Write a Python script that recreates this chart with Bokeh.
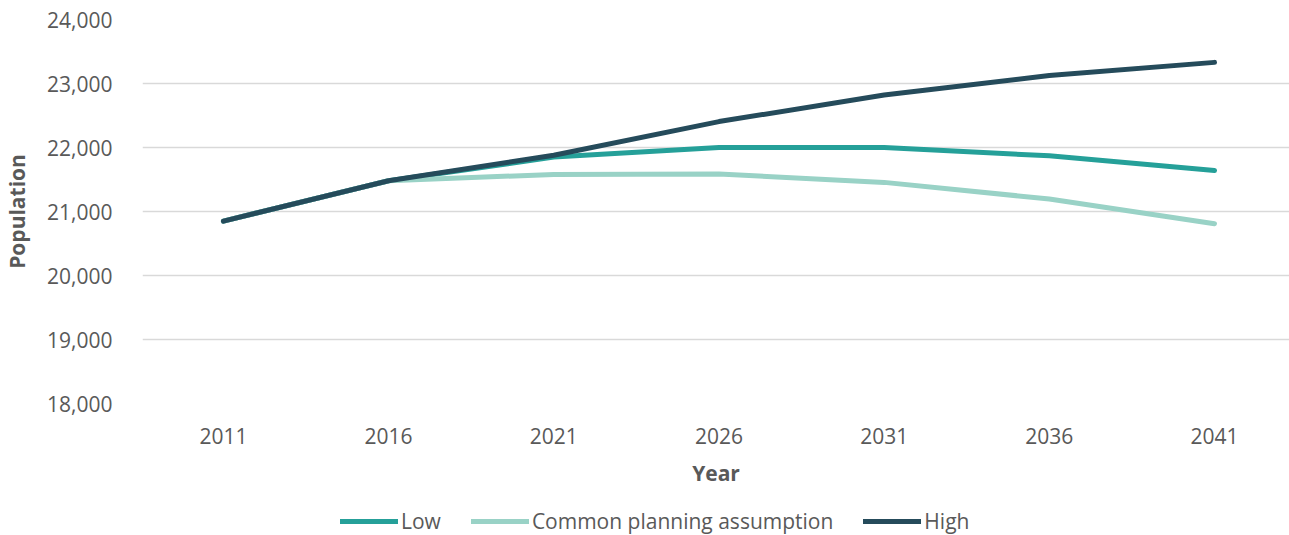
from bokeh.plotting import figure
from bokeh.layouts import column
from bokeh.models import Range1d, FixedTicker, NumeralTickFormatter, Legend, LegendItem, CustomJSTickFormatter
from bokeh.embed import file_html
from bokeh.resources import INLINE

years = [2011, 2016, 2021, 2026, 2031, 2036, 2041]
low = [20850, 21480, 21850, 22000, 22000, 21870, 21640]
common = [20850, 21480, 21580, 21585, 21455, 21195, 20810]
high = [20850, 21480, 21880, 22405, 22820, 23125, 23330]
y_ticks = [18000, 19000, 20000, 21000, 22000, 23000, 24000]
series_names = ["Low", "Common planning assumption", "High"]
colors = ["#25a099", "#99d2c6", "#254b5b"]

FONT = "Open Sans"
TXT = "#595959"

p = figure(width=1289, height=500, output_backend="svg", toolbar_location=None,
           x_range=Range1d(2008.55, 2043.27), y_range=Range1d(18000, 24000),
           min_border_left=142, min_border_right=0, min_border_top=19, min_border_bottom=97)
p.outline_line_color = None
p.background_fill_color = "white"
p.border_fill_color = "white"

for vals, col in zip([low, common, high], colors):
    p.line(years, vals, line_color=col, line_width=5, line_cap="round", line_join="round")

p.xgrid.grid_line_color = None
p.ygrid.grid_line_color = "#d9d9d9"
p.ygrid.grid_line_width = 1.5
p.ygrid.ticker = FixedTicker(ticks=y_ticks)

for ax in (p.xaxis[0], p.yaxis[0]):
    ax.axis_line_color = None
    ax.major_tick_line_color = None
    ax.minor_tick_line_color = None
    ax.major_label_text_font = FONT
    ax.major_label_text_font_size = "21px"
    ax.major_label_text_color = TXT
    ax.axis_label_text_font = FONT
    ax.axis_label_text_font_size = "21px"
    ax.axis_label_text_font_style = "bold"
    ax.axis_label_text_color = TXT

p.xaxis.ticker = FixedTicker(ticks=years)
p.xaxis.formatter = CustomJSTickFormatter(code="return String(tick);")
p.xaxis.axis_label = "Year"
p.xaxis.major_label_standoff = 18
p.xaxis.axis_label_standoff = 12

p.yaxis.ticker = FixedTicker(ticks=y_ticks)
p.yaxis.formatter = NumeralTickFormatter(format="0,0")
p.yaxis.axis_label = "Population"
p.yaxis.major_label_standoff = 24
p.yaxis.axis_label_standoff = 13

# legend strip (series drawn off-screen, only their legend entries show)
lg = figure(width=1289, height=35, output_backend="svg", toolbar_location=None,
            x_range=Range1d(0, 1), y_range=Range1d(0, 1),
            x_axis_type=None, y_axis_type=None,
            min_border_left=0, min_border_right=0, min_border_top=0, min_border_bottom=0)
lg.outline_line_color = None
lg.xgrid.grid_line_color = None
lg.ygrid.grid_line_color = None
items = []
for name, vals, col in zip(series_names, [low, common, high], colors):
    r = lg.line(years, vals, line_color=col, line_width=5, line_cap="round")
    items.append(LegendItem(label=name, renderers=[r]))

legend = Legend(items=items, orientation="horizontal", location=(198, 0),
                glyph_width=58, glyph_height=20, label_height=20, label_standoff=3,
                spacing=30, padding=0, margin=0, border_line_color=None,
                background_fill_alpha=0,
                label_text_font=FONT, label_text_font_size="21px", label_text_color=TXT)
lg.add_layout(legend, "center")

layout = column(p, lg, spacing=0)
open("out.html", "w").write(file_html(layout, INLINE))
